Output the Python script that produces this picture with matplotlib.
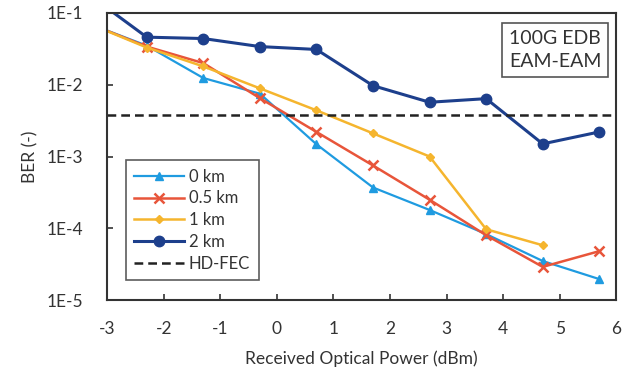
import numpy as np
import matplotlib.pyplot as plt
from matplotlib.ticker import FixedLocator, FixedFormatter

plt.rcParams['font.family'] = ['Lato', 'DejaVu Sans']
plt.rcParams['axes.unicode_minus'] = False

## data
power = [-3.3, -2.3, -1.3, -0.3, 0.7, 1.7, 2.7, 3.7, 4.7, 5.7]

ber0km = [7.0e-2, 3.5e-2, 1.24e-2, 7.5e-3, 1.48e-3, 3.7e-4, 1.8e-4, 8.3e-5, 3.5e-5, 1.96e-5]
ber05km = [7.0e-2, 3.4e-2, 2.0e-2, 6.5e-3, 2.2e-3, 7.5e-4, 2.5e-4, 8.0e-5, 2.9e-5, 4.8e-5]
ber1km = [7.0e-2, 3.3e-2, 1.8e-2, 8.9e-3, 4.4e-3, 2.1e-3, 1.0e-3, 9.7e-5, 5.8e-5]
ber2km = [1.75e-1, 4.6e-2, 4.4e-2, 3.4e-2, 3.1e-2, 9.7e-3, 5.7e-3, 6.4e-3, 1.5e-3, 2.2e-3]

hdFec = 3.8e-3

xTicks = [-3, -2, -1, 0, 1, 2, 3, 4, 5, 6]
yTicks = [1e-5, 1e-4, 1e-3, 1e-2, 1e-1]
yTickLabels = ['1E-5', '1E-4', '1E-3', '1E-2', '1E-1']

fntSize = 12.5

## plot
fig = plt.figure(figsize=(6.34, 3.70), dpi=100)
ax = fig.add_axes([0.169, 0.189, 0.803, 0.776])

ax.plot(power, ber0km, color='#1f9be0', lw=1.6, marker='^', ms=6, label='0 km')
ax.plot(power, ber05km, color='#e8553a', lw=1.8, marker='x', ms=7, mew=1.8, label='0.5 km')
ax.plot(power[:len(ber1km)], ber1km, color='#f5b52e', lw=1.8, marker='D', ms=4, label='1 km')
ax.plot(power, ber2km, color='#1d3f8c', lw=2.2, marker='o', ms=7.5, label='2 km')
ax.axhline(hdFec, color='#222222', lw=1.8, ls=(0, (3.5, 2)), label='HD-FEC')

ax.set_yscale('log')
ax.set_xlim(-3, 6)
ax.set_ylim(1e-5, 1e-1)

ax.xaxis.set_major_locator(FixedLocator(xTicks))
ax.yaxis.set_major_locator(FixedLocator(yTicks))
ax.yaxis.set_major_formatter(FixedFormatter(yTickLabels))
ax.yaxis.set_minor_locator(FixedLocator([]))
ax.tick_params(direction='in', length=4, width=1.2, colors='#333333', labelsize=fntSize, pad=17)
ax.tick_params(axis='x', pad=15)

for s in ax.spines.values():
    s.set_color('#333333')
    s.set_linewidth(1.5)

ax.set_xlabel('Received Optical Power (dBm)', fontsize=fntSize, color='#333333', labelpad=10)
ax.set_ylabel('BER (-)', fontsize=fntSize, color='#333333', labelpad=6)

ax.text(0.88, 0.87, '100G EDB\nEAM-EAM', transform=ax.transAxes, ha='center', va='center',
        fontsize=14, color='#333333', linespacing=1.45,
        bbox=dict(boxstyle='square,pad=0.35', fc='white', ec='#555555', lw=1.2))

leg = ax.legend(loc='lower left', bbox_to_anchor=(0.02, 0.04), fontsize=12, frameon=True,
                fancybox=False, edgecolor='#333333', handlelength=3.0, labelspacing=0.35,
                borderpad=0.5, handletextpad=0.3)
leg.get_frame().set_linewidth(1.2)
for t in leg.get_texts():
    t.set_color('#333333')

fig.savefig('out.png', dpi=100)
plt.close(fig)
